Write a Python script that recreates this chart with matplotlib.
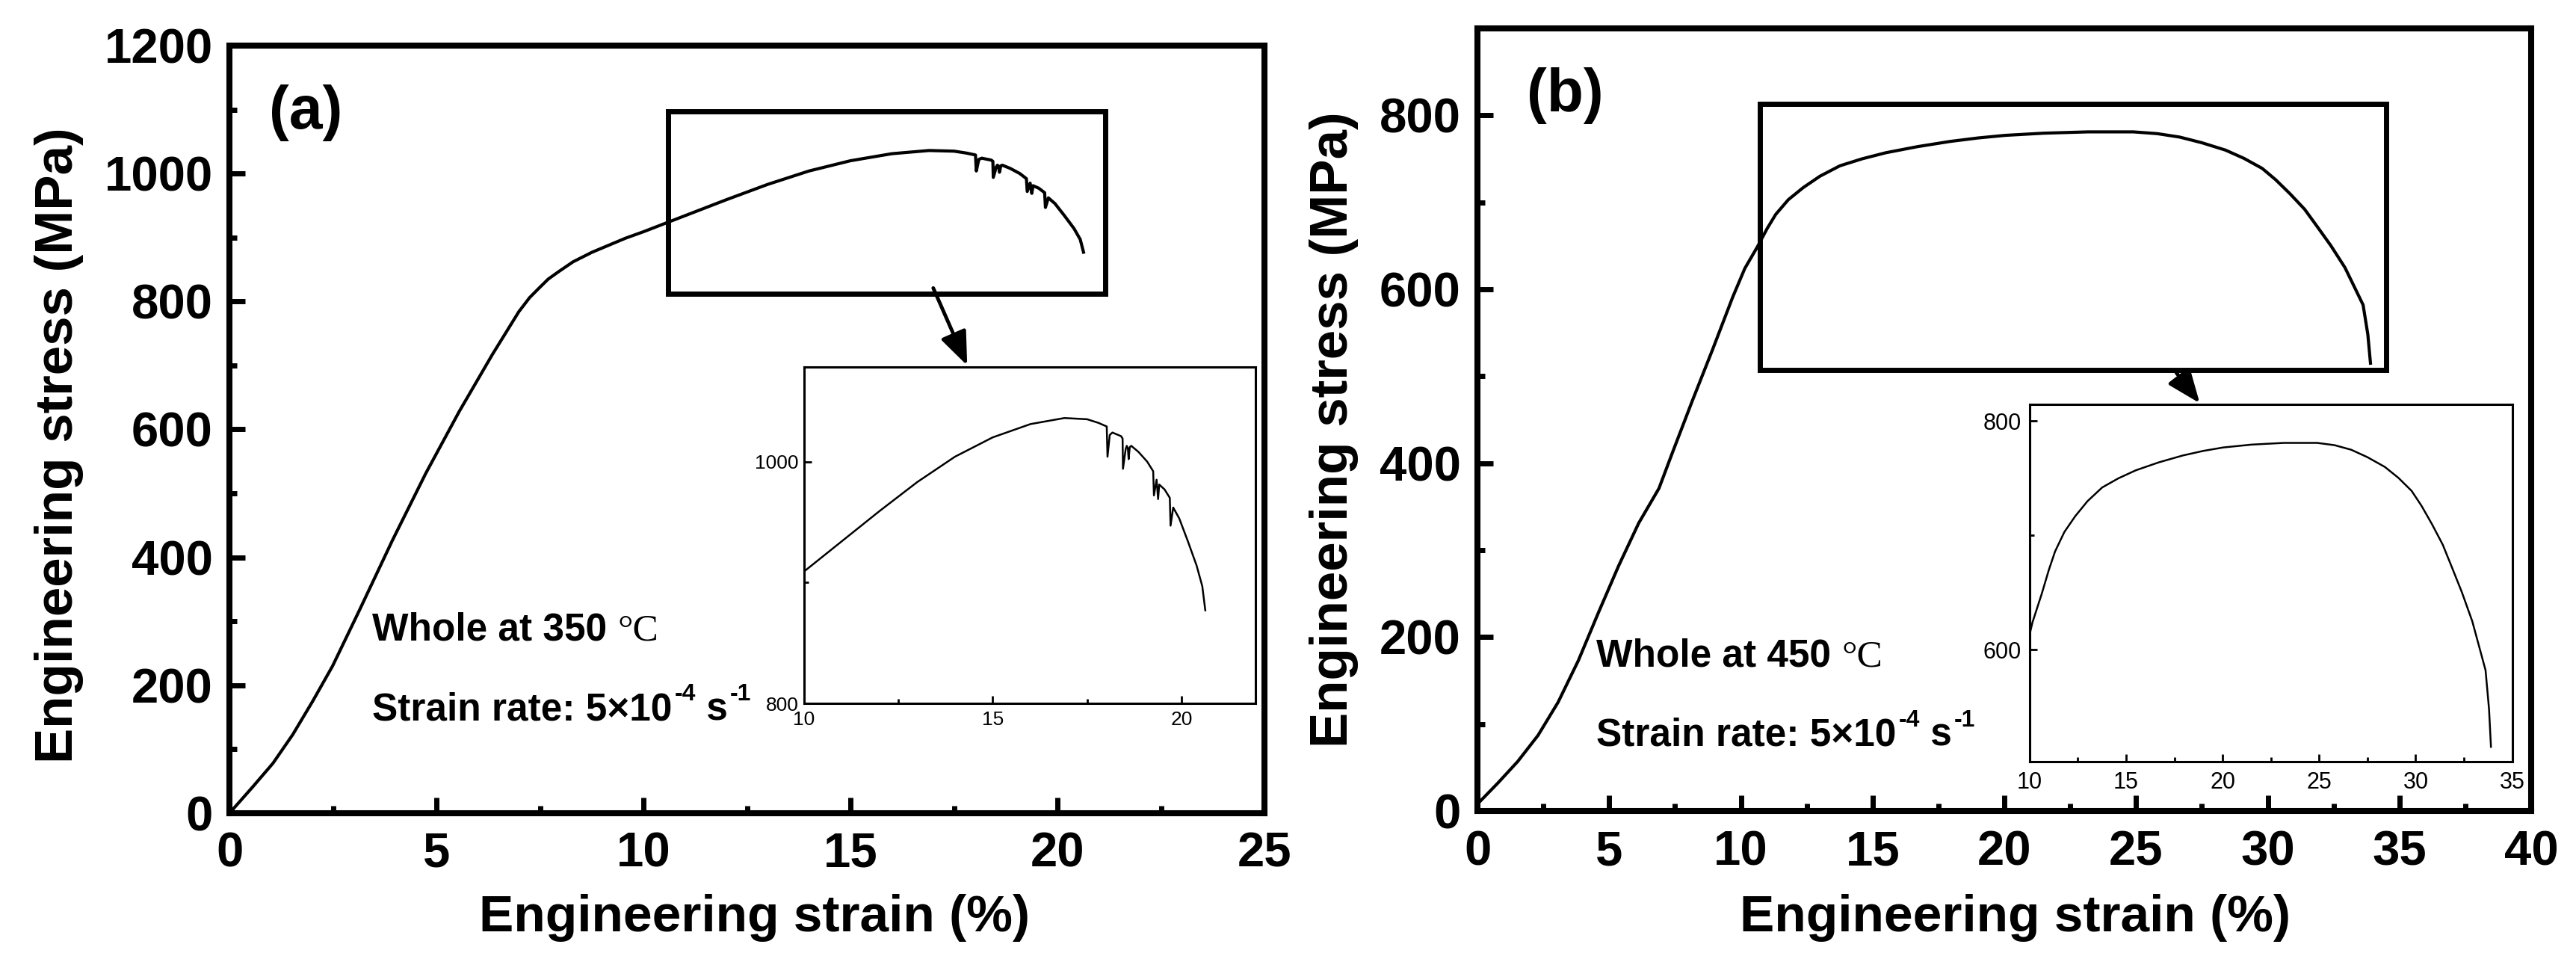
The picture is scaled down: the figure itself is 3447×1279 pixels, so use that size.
import matplotlib
matplotlib.use('Agg')
import matplotlib.pyplot as plt
from matplotlib import font_manager
from matplotlib.patches import Rectangle
from matplotlib.ticker import MultipleLocator

names = {f.name for f in font_manager.fontManager.ttflist}
SANS = 'Liberation Sans' if 'Liberation Sans' in names else 'DejaVu Sans'
NARROW = 'Liberation Sans Narrow' if 'Liberation Sans Narrow' in names else SANS
SERIF = 'Liberation Serif' if 'Liberation Serif' in names else 'DejaVu Serif'

plt.rcParams['font.family'] = [SANS, 'DejaVu Sans']
plt.rcParams['font.weight'] = 'bold'

# ---------------- data ----------------
# (a) whole at 350 C
strain_a = [0, 0.56, 1.05, 1.53, 2.01, 2.49, 3.13, 3.94, 4.74, 5.55, 6.35, 6.99,
            7.25, 7.48, 7.7, 7.96, 8.3, 8.76, 9.57, 10.0, 11.0, 12.0, 13.0,
            14.0, 15.0, 16.0, 16.9, 17.5, 17.8, 18.02,
            18.04, 18.10, 18.17, 18.40, 18.44, 18.45, 18.52, 18.55, 18.58, 18.60,
            18.63, 18.67, 18.86, 19.09, 19.25, 19.27, 19.34, 19.38, 19.41, 19.55,
            19.69, 19.71, 19.78, 19.94, 20.17, 20.40, 20.55, 20.63]
stress_a = [0, 41, 78, 123, 175, 230, 316, 427, 531, 628, 717, 784,
            806, 821, 835, 847, 862, 877, 899, 909, 934, 959, 983,
            1004, 1020, 1031, 1036, 1035, 1032, 1029,
            1004, 1022, 1024, 1021, 1019, 994, 1010, 1013, 1011, 1002,
            1012, 1013, 1008, 1000, 992, 972, 985, 969, 981, 977,
            970, 947, 962, 953, 934, 914, 897, 877]

# (b) whole at 450 C
strain_b = [0, 0.77, 1.53, 2.30, 3.06, 3.83, 4.59, 5.36, 6.12, 6.89, 7.40, 8.16,
            8.93, 9.69, 10.15, 10.63, 11.0, 11.32, 11.8, 12.37, 13.0, 13.76, 14.6,
            15.5, 16.7, 17.94, 19.0, 20.03, 21.5, 23.17, 24.9, 25.8, 26.66, 27.5,
            28.4, 29.1, 29.79, 30.3, 30.84, 31.4, 31.88, 32.4, 32.93, 33.3, 33.62,
            33.80, 33.9]
stress_b = [8, 32, 57, 87, 125, 173, 228, 282, 331, 371, 412, 472,
            531, 591, 624, 649, 670, 686, 703, 717, 730, 742, 750,
            757, 764, 770, 774, 777, 779.5, 781, 781, 779, 775, 768.5,
            760, 750.5, 739, 726, 710, 692, 672, 650, 625, 602, 582,
            548, 515]

xticks_a = [0, 5, 10, 15, 20, 25]
yticks_a = [0, 200, 400, 600, 800, 1000, 1200]
xticks_b = [0, 5, 10, 15, 20, 25, 30, 35, 40]
yticks_b = [0, 200, 400, 600, 800]

box_a = (10.6, 812, 21.15, 1097)
box_b = (10.71, 507, 34.49, 813)
arrow_a = ((17.0, 821), (17.82, 700))
arrow_b = ((26.53, 504), (27.42, 469))

XLABEL = 'Engineering strain (%)'
YLABEL = 'Engineering stress (MPa)'

# ---------------- figure ----------------
fig = plt.figure(figsize=(34.48, 12.79), dpi=100)
ax_a = fig.add_axes([0.08904, 0.14934, 0.40168, 0.80297])
ax_b = fig.add_axes([0.57338, 0.15168, 0.40893, 0.81861])


def style_main(ax, xlim, ylim, xt, yt):
    ax.set_xlim(*xlim)
    ax.set_ylim(*ylim)
    ax.set_xticks(xt)
    ax.set_yticks(yt)
    ax.xaxis.set_minor_locator(MultipleLocator(2.5))
    ax.yaxis.set_minor_locator(MultipleLocator(100))
    ax.tick_params(which='both', direction='in', top=False, right=False)
    ax.tick_params(which='major', length=15, width=5)
    ax.tick_params(which='minor', length=7, width=5)
    ax.tick_params(axis='x', pad=18, labelsize=47)
    ax.tick_params(axis='y', pad=16, labelsize=47)
    for lab in ax.get_xticklabels() + ax.get_yticklabels():
        lab.set_fontweight('bold')
    for sp in ax.spines.values():
        sp.set_linewidth(5.8)
    ax.set_xlabel(XLABEL, fontsize=50, fontweight='bold')
    ax.set_ylabel(YLABEL, fontsize=51, fontweight='bold')


def style_inset(ax, xlim, ylim, size, pad_x, pad_y):
    ax.set_xlim(*xlim)
    ax.set_ylim(*ylim)
    ax.xaxis.set_major_locator(MultipleLocator(5))
    ax.xaxis.set_minor_locator(MultipleLocator(2.5))
    ax.yaxis.set_major_locator(MultipleLocator(200))
    ax.yaxis.set_minor_locator(MultipleLocator(100))
    ax.tick_params(which='both', direction='in', top=False, right=False)
    ax.tick_params(which='major', length=7, width=2)
    ax.tick_params(which='minor', length=4, width=2)
    ax.tick_params(axis='x', pad=pad_x, labelsize=size)
    ax.tick_params(axis='y', pad=pad_y, labelsize=size)
    for lab in ax.get_xticklabels() + ax.get_yticklabels():
        lab.set_fontweight('normal')
        lab.set_fontfamily([NARROW, SANS])
    for sp in ax.spines.values():
        sp.set_linewidth(2.2)


def rich_text(ax, x, y, parts, size):
    base = dict(fontsize=size, fontweight='bold', family=[NARROW, SANS, 'DejaVu Sans'])
    first = ax.text(x, y, parts[0][0], va='baseline', ha='left', **base)
    prev = first
    for s, kind in parts[1:]:
        if kind == 'sup':
            t = ax.annotate(s, xy=(1, 1), xycoords=(prev, first),
                            xytext=(2, 8), textcoords='offset points',
                            va='top', ha='left', fontsize=size * 0.62,
                            fontweight='bold', family=[NARROW, SANS, 'DejaVu Sans'])
        elif kind == 'serif':
            t = ax.annotate(s, xy=(1, 0), xycoords=(prev, first),
                            va='bottom', ha='left', fontsize=size,
                            fontweight='normal', family=[SERIF, 'DejaVu Serif'])
        else:
            t = ax.annotate(s, xy=(1, 0), xycoords=(prev, first),
                            va='bottom', ha='left', **base)
        prev = t


# ----- panel (a) -----
style_main(ax_a, (0, 25), (0, 1200), xticks_a, yticks_a)
ax_a.plot(strain_a, stress_a, color='k', lw=3.0, solid_joinstyle='round')
ax_a.add_patch(Rectangle((box_a[0], box_a[1]), box_a[2] - box_a[0], box_a[3] - box_a[1],
                         fill=False, ec='k', lw=5))
ax_a.annotate('', xy=arrow_a[1], xytext=arrow_a[0],
              arrowprops=dict(arrowstyle='-|>,head_length=0.55,head_width=0.22',
                              lw=3.5, color='k', shrinkA=0, shrinkB=0, mutation_scale=50))
ax_a.text(0.96, 1095, '(a)', fontsize=58, fontweight='bold', va='center', ha='left')
rich_text(ax_a, 3.45, 270, [('Whole at 350 ', 'n'), ('°C', 'serif')], 37)
rich_text(ax_a, 3.45, 146, [('Strain rate: 5×10', 'n'), ('-4', 'sup'), (' s', 'n'), ('-1', 'sup')], 37)
ax_a.xaxis.set_label_coords(0.5076, -0.105)
ax_a.yaxis.set_label_coords(-0.141, 0.479)

ins_a = ax_a.inset_axes([0.555, 0.143, 0.436, 0.438])
ins_a.plot(strain_a, stress_a, color='k', lw=1.8)
style_inset(ins_a, (10, 21.95), (800, 1078), 19, 7, 5)

# ----- panel (b) -----
style_main(ax_b, (0, 40), (0, 900), xticks_b, yticks_b)
ax_b.plot(strain_b, stress_b, color='k', lw=3.0, solid_joinstyle='round')
ax_b.add_patch(Rectangle((box_b[0], box_b[1]), box_b[2] - box_b[0], box_b[3] - box_b[1],
                         fill=False, ec='k', lw=5))
ax_b.annotate('', xy=arrow_b[1], xytext=arrow_b[0],
              arrowprops=dict(arrowstyle='-|>,head_length=0.55,head_width=0.22',
                              lw=3.5, color='k', shrinkA=0, shrinkB=0, mutation_scale=50))
ax_b.text(1.87, 823, '(b)', fontsize=58, fontweight='bold', va='center', ha='left')
rich_text(ax_b, 4.52, 166, [('Whole at 450 ', 'n'), ('°C', 'serif')], 37)
rich_text(ax_b, 4.52, 75, [('Strain rate: 5×10', 'n'), ('-4', 'sup'), (' s', 'n'), ('-1', 'sup')], 37)
ax_b.xaxis.set_label_coords(0.51, -0.106)
ax_b.yaxis.set_label_coords(-0.113, 0.487)

ins_b = ax_b.inset_axes([0.524, 0.063, 0.458, 0.457])
ins_b.plot(strain_b, stress_b, color='k', lw=1.8)
style_inset(ins_b, (10, 35), (502, 815), 22, 9, 8)

fig.savefig('out.png', dpi=100)
